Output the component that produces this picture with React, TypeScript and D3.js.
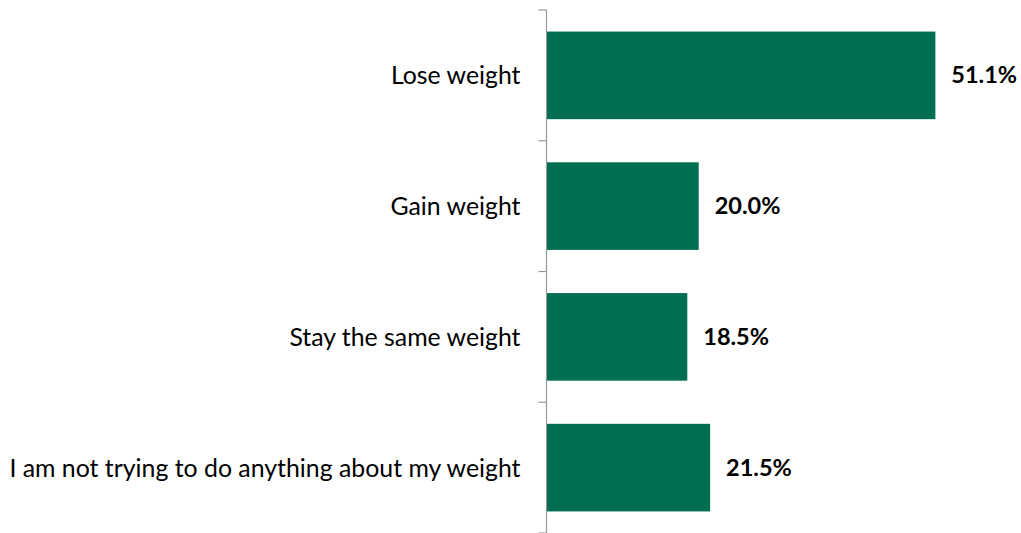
import React from "react";
import * as d3 from "d3";

const categories = [
  "Lose weight",
  "Gain weight",
  "Stay the same weight",
  "I am not trying to do anything about my weight",
];
const values = [51.1, 20.0, 18.5, 21.5];
const valueLabels = ["51.1%", "20.0%", "18.5%", "21.5%"];

const W = 1021;
const H = 533;
const axisX = 546.5;
const FONT = "Lato, 'Open Sans', sans-serif";

export default function App() {
  const y = d3
    .scaleBand<string>()
    .domain(categories)
    .range([10, 533])
    .paddingInner(0.33)
    .paddingOuter(0.165);
  const x = d3.scaleLinear().domain([0, 60]).range([axisX, axisX + 456.6]);
  const step = y.step();
  const tickYs = d3.range(categories.length + 1).map((i) => 10 + i * step);

  return (
    <svg
      width={W}
      height={H}
      style={{ position: "absolute", left: 0, top: 0, background: "#fff" }}
    >
      {categories.map((c, i) => (
        <g key={c}>
          <rect
            x={x(0)}
            y={y(c)!}
            width={x(values[i]) - x(0)}
            height={y.bandwidth()}
            fill="#006E51"
          />
          <text
            x={axisX - 26}
            y={y(c)! + y.bandwidth() / 2 - 1}
            textAnchor="end"
            dominantBaseline="central"
            fontFamily={FONT}
            fontSize={24.85}
            fill="#000"
          >
            {c}
          </text>
          <text
            x={x(values[i]) + 16}
            y={y(c)! + y.bandwidth() / 2 - 1}
            textAnchor="start"
            dominantBaseline="central"
            fontFamily={FONT}
            fontSize={23.5}
            fontWeight="bold"
            fill="#000"
          >
            {valueLabels[i]}
          </text>
        </g>
      ))}
      <line x1={axisX} x2={axisX} y1={10} y2={533} stroke="#999" strokeWidth={1.2} />
      {tickYs.map((t, i) => (
        <line key={i} x1={axisX - 8} x2={axisX} y1={t} y2={t} stroke="#999" strokeWidth={1.2} />
      ))}
    </svg>
  );
}
